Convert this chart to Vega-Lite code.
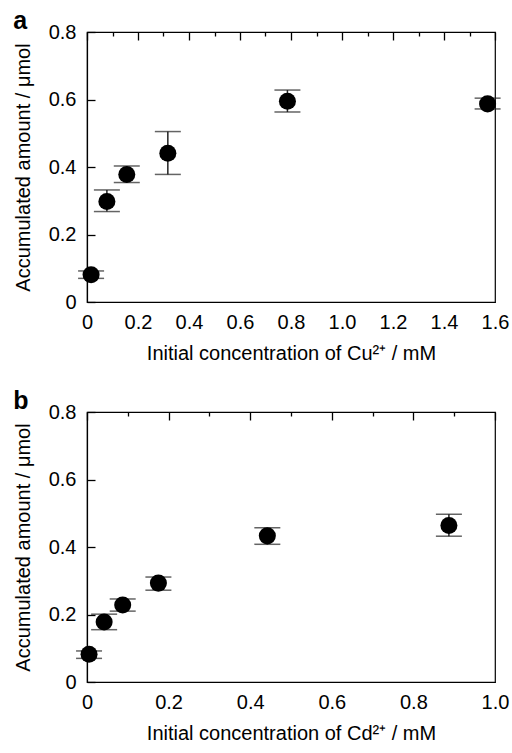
{
  "$schema": "https://vega.github.io/schema/vega-lite/v6.json",
  "padding": {"left": 12, "top": 8, "right": 12, "bottom": 0},
  "spacing": 24,
  "config": {
    "view": {"stroke": "black", "strokeWidth": 1.2},
    "font": "Liberation Sans",
    "axis": {
      "labelFont": "Liberation Sans", "labelFontSize": 20, "labelColor": "black",
      "titleFont": "Liberation Sans", "titleFontSize": 20, "titleFontWeight": "normal", "titleColor": "black",
      "labelFlush": false, "labelOverlap": false
    },
    "axisX": {"labelPadding": 10, "titlePadding": 11},
    "axisY": {"labelPadding": 11, "titlePadding": 15},
    "title": {"fontSize": 25, "fontWeight": "bold", "anchor": "start", "frame": "bounds", "font": "Liberation Sans", "offset": -12, "color": "black"}
  },
  "datasets": {
    "cu": [
      {"conc": 0.016, "amount": 0.081, "lo": 0.070, "hi": 0.092},
      {"conc": 0.078, "amount": 0.298, "lo": 0.268, "hi": 0.332},
      {"conc": 0.156, "amount": 0.378, "lo": 0.354, "hi": 0.403},
      {"conc": 0.317, "amount": 0.441, "lo": 0.378, "hi": 0.505},
      {"conc": 0.786, "amount": 0.595, "lo": 0.563, "hi": 0.628},
      {"conc": 1.571, "amount": 0.587, "lo": 0.572, "hi": 0.604}
    ],
    "cd": [
      {"conc": 0.005, "amount": 0.082, "lo": 0.070, "hi": 0.092},
      {"conc": 0.042, "amount": 0.178, "lo": 0.155, "hi": 0.201},
      {"conc": 0.0875, "amount": 0.228, "lo": 0.210, "hi": 0.246},
      {"conc": 0.175, "amount": 0.293, "lo": 0.272, "hi": 0.311},
      {"conc": 0.442, "amount": 0.433, "lo": 0.408, "hi": 0.457},
      {"conc": 0.887, "amount": 0.464, "lo": 0.432, "hi": 0.497}
    ]
  },
  "vconcat": [
    {
      "title": "a",
      "width": 408, "height": 270,
      "data": {"name": "cu"},
      "encoding": {
        "x": {"field": "conc", "type": "quantitative", "title": "Initial concentration of Cu²⁺ / mM",
          "scale": {"domain": [0, 1.6], "nice": false},
          "axis": {"values": [0, 0.1, 0.2, 0.3, 0.4, 0.5, 0.6, 0.7, 0.8, 0.9, 1.0, 1.1, 1.2, 1.3, 1.4, 1.5, 1.6],
            "labelExpr": "round(datum.value*10)%2==1 ? '' : (datum.value==0 ? '0' : format(datum.value,'.1f'))",
            "domainColor": "black", "domainWidth": 1.2, "ticks": false, "zindex": 1,
            "grid": true, "gridColor": "black", "gridWidth": 1.3, "gridOpacity": 1,
            "gridDash": {"condition": {"test": "round(datum.value*10)%2==1", "value": [4, 1000]}, "value": [8, 1000]}}}
      },
      "layer": [
        {"mark": {"type": "rule", "color": "#222", "strokeWidth": 1.5},
         "encoding": {"y": {"field": "lo", "type": "quantitative", "title": "Accumulated amount / μmol", "scale": {"domain": [0, 0.8], "nice": false},
            "axis": {"values": [0, 0.1, 0.2, 0.3, 0.4, 0.5, 0.6, 0.7, 0.8],
              "labelExpr": "round(datum.value*10)%2==1 ? '' : (datum.value==0 ? '0' : format(datum.value,'.1f'))",
              "domainColor": "black", "domainWidth": 1.2, "ticks": false, "zindex": 1,
              "grid": true, "gridColor": "black", "gridWidth": 1.3, "gridOpacity": 1,
              "gridDash": {"condition": {"test": "round(datum.value*10)%2==1", "value": [4, 1000]}, "value": [8, 1000]}}},
           "y2": {"field": "hi"}}},
        {"mark": {"type": "tick", "orient": "horizontal", "size": 26, "thickness": 1.5, "color": "#222"},
         "encoding": {"y": {"field": "lo", "type": "quantitative", "title": "Accumulated amount / μmol"}}},
        {"mark": {"type": "tick", "orient": "horizontal", "size": 26, "thickness": 1.5, "color": "#222"},
         "encoding": {"y": {"field": "hi", "type": "quantitative", "title": "Accumulated amount / μmol"}}},
        {"mark": {"type": "point", "filled": true, "size": 290, "color": "black", "opacity": 1},
         "encoding": {"y": {"field": "amount", "type": "quantitative", "title": "Accumulated amount / μmol"}}}
      ]
    },
    {
      "title": "b",
      "width": 408, "height": 270,
      "data": {"name": "cd"},
      "encoding": {
        "x": {"field": "conc", "type": "quantitative", "title": "Initial concentration of Cd²⁺ / mM",
          "scale": {"domain": [0, 1.0], "nice": false},
          "axis": {"values": [0, 0.1, 0.2, 0.3, 0.4, 0.5, 0.6, 0.7, 0.8, 0.9, 1.0],
            "labelExpr": "round(datum.value*10)%2==1 ? '' : (datum.value==0 ? '0' : format(datum.value,'.1f'))",
            "domainColor": "black", "domainWidth": 1.2, "ticks": false, "zindex": 1,
            "grid": true, "gridColor": "black", "gridWidth": 1.3, "gridOpacity": 1,
            "gridDash": {"condition": {"test": "round(datum.value*10)%2==1", "value": [4, 1000]}, "value": [8, 1000]}}}
      },
      "layer": [
        {"mark": {"type": "rule", "color": "#222", "strokeWidth": 1.5},
         "encoding": {"y": {"field": "lo", "type": "quantitative", "title": "Accumulated amount / μmol", "scale": {"domain": [0, 0.8], "nice": false},
            "axis": {"values": [0, 0.1, 0.2, 0.3, 0.4, 0.5, 0.6, 0.7, 0.8],
              "labelExpr": "round(datum.value*10)%2==1 ? '' : (datum.value==0 ? '0' : format(datum.value,'.1f'))",
              "domainColor": "black", "domainWidth": 1.2, "ticks": false, "zindex": 1,
              "grid": true, "gridColor": "black", "gridWidth": 1.3, "gridOpacity": 1,
              "gridDash": {"condition": {"test": "round(datum.value*10)%2==1", "value": [4, 1000]}, "value": [8, 1000]}}},
           "y2": {"field": "hi"}}},
        {"mark": {"type": "tick", "orient": "horizontal", "size": 26, "thickness": 1.5, "color": "#222"},
         "encoding": {"y": {"field": "lo", "type": "quantitative", "title": "Accumulated amount / μmol"}}},
        {"mark": {"type": "tick", "orient": "horizontal", "size": 26, "thickness": 1.5, "color": "#222"},
         "encoding": {"y": {"field": "hi", "type": "quantitative", "title": "Accumulated amount / μmol"}}},
        {"mark": {"type": "point", "filled": true, "size": 290, "color": "black", "opacity": 1},
         "encoding": {"y": {"field": "amount", "type": "quantitative", "title": "Accumulated amount / μmol"}}}
      ]
    }
  ]
}
